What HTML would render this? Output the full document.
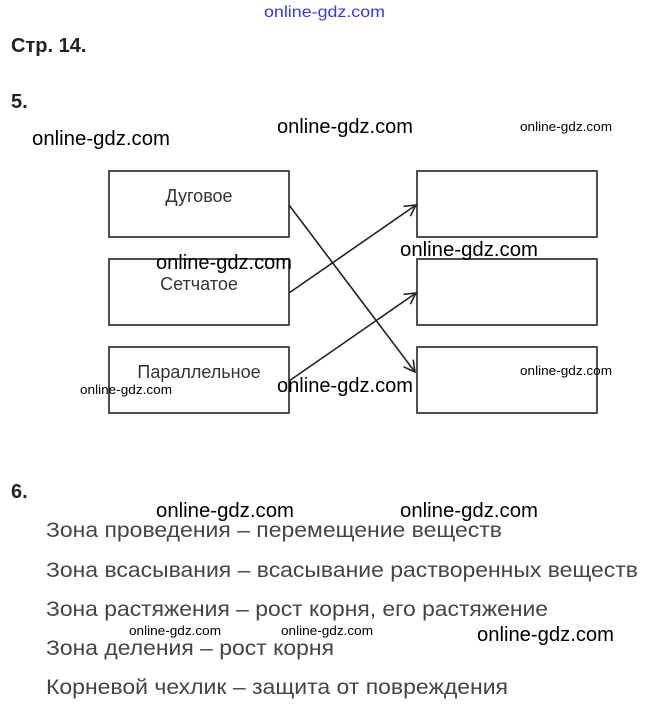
<!DOCTYPE html>
<html><head><meta charset="utf-8"><style>
html,body{margin:0;padding:0;background:#fff;}
svg{display:block;}
</style></head><body>
<svg width="648" height="712" xmlns="http://www.w3.org/2000/svg" font-family="Liberation Sans, sans-serif">
<defs><marker id="a" markerWidth="14" markerHeight="14" refX="12" refY="7" orient="auto" markerUnits="userSpaceOnUse"><path d="M1,1 L12,7 L1,13" fill="none" stroke="#222" stroke-width="1.6"/></marker></defs>
<text x="264" y="17" font-size="16" fill="#3a3acc" textLength="121" lengthAdjust="spacingAndGlyphs">online-gdz.com</text>
<text x="11" y="52" font-size="20" font-weight="bold" fill="#222">Стр. 14.</text>
<text x="11" y="108" font-size="20" font-weight="bold" fill="#222">5.</text>
<g fill="#fff" stroke="#222" stroke-width="1.6">
<rect x="109" y="171" width="180" height="66"/><rect x="109" y="259" width="180" height="66"/><rect x="109" y="347" width="180" height="66"/>
<rect x="417" y="171" width="180" height="66"/><rect x="417" y="259" width="180" height="66"/><rect x="417" y="347" width="180" height="66"/>
</g>
<g font-size="18" fill="#333" text-anchor="middle">
<text x="199" y="202">Дуговое</text><text x="199" y="290">Сетчатое</text><text x="199" y="378">Параллельное</text>
</g>
<g stroke="#222" stroke-width="1.6" marker-end="url(#a)">
<line x1="289" y1="205" x2="415" y2="372"/>
<line x1="289" y1="293" x2="416" y2="205"/>
<line x1="289" y1="381" x2="416" y2="293"/>
</g>
<g font-size="20" fill="#000">
<text x="32" y="145" textLength="138" lengthAdjust="spacingAndGlyphs">online-gdz.com</text>
<text x="277" y="133" textLength="136" lengthAdjust="spacingAndGlyphs">online-gdz.com</text>
<text x="156" y="269" textLength="136" lengthAdjust="spacingAndGlyphs">online-gdz.com</text>
<text x="400" y="256" textLength="138" lengthAdjust="spacingAndGlyphs">online-gdz.com</text>
<text x="277" y="392" textLength="136" lengthAdjust="spacingAndGlyphs">online-gdz.com</text>
<text x="156" y="517" textLength="138" lengthAdjust="spacingAndGlyphs">online-gdz.com</text>
<text x="400" y="517" textLength="138" lengthAdjust="spacingAndGlyphs">online-gdz.com</text>
<text x="477" y="641" textLength="137" lengthAdjust="spacingAndGlyphs">online-gdz.com</text>
</g>
<g font-size="13" fill="#000">
<text x="520" y="131" textLength="92" lengthAdjust="spacingAndGlyphs">online-gdz.com</text>
<text x="80" y="394" textLength="92" lengthAdjust="spacingAndGlyphs">online-gdz.com</text>
<text x="520" y="375" textLength="92" lengthAdjust="spacingAndGlyphs">online-gdz.com</text>
<text x="129" y="635" textLength="92" lengthAdjust="spacingAndGlyphs">online-gdz.com</text>
<text x="281" y="635" textLength="92" lengthAdjust="spacingAndGlyphs">online-gdz.com</text>
</g>
<text x="11" y="498" font-size="20" font-weight="bold" fill="#222">6.</text>
<g font-size="21" fill="#444">
<text x="46" y="537" textLength="456" lengthAdjust="spacingAndGlyphs">Зона проведения – перемещение веществ</text>
<text x="46" y="577" textLength="592" lengthAdjust="spacingAndGlyphs">Зона всасывания – всасывание растворенных веществ</text>
<text x="46" y="616" textLength="502" lengthAdjust="spacingAndGlyphs">Зона растяжения – рост корня, его растяжение</text>
<text x="46" y="655" textLength="288" lengthAdjust="spacingAndGlyphs">Зона деления – рост корня</text>
<text x="46" y="694" textLength="462" lengthAdjust="spacingAndGlyphs">Корневой чехлик – защита от повреждения</text>
</g>
</svg>
</body></html>
